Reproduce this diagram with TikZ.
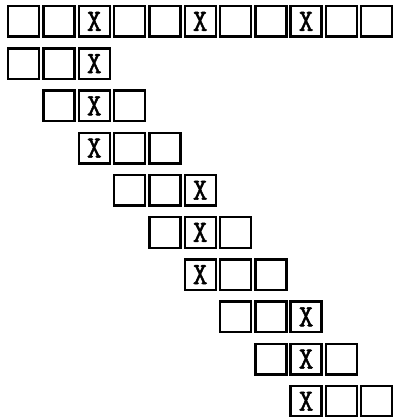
\documentclass[tikz,border=0pt]{standalone}
\usepackage{fontspec}
\newfontfamily\xfont[FakeBold=1.6]{Latin Modern Mono}
\begin{document}
\begin{tikzpicture}[x=1pt,y=-1pt,
  cell/.style={draw=black,line width=2.4pt,minimum width=31pt,minimum height=30.5pt,inner sep=0pt,outer sep=0pt,anchor=north west},
  xmark/.style={inner sep=0pt,xscale=0.92,font=\xfont\fontsize{31}{31}\selectfont},
]
\useasboundingbox (0,0) rectangle (396,417);
% top row
\foreach \c in {0,...,10}{
  \pgfmathsetmacro{\xx}{8.2+\c*35.3}
  \node[cell] (t-\c) at (\xx,6.2) {};
}
\foreach \c in {2,5,8}{ \node[xmark] (tx-\c) at (t-\c.center) {X}; }
% diagonal rows: row r (1..9) starts at column r-1, X position given
\foreach \r/\xc in {1/2,2/2,3/2,4/5,5/5,6/5,7/8,8/8,9/8}{
  \foreach \k in {0,1,2}{
    \pgfmathtruncatemacro{\cc}{\r-1+\k}
    \pgfmathsetmacro{\xx}{8.2+\cc*35.3}
    \pgfmathsetmacro{\yy}{6.2+\r*42.2}
    \node[cell] (b-\r-\cc) at (\xx,\yy) {};
  }
  \node[xmark] (bx-\r) at (b-\r-\xc.center) {X};
}
\end{tikzpicture}
\end{document}
